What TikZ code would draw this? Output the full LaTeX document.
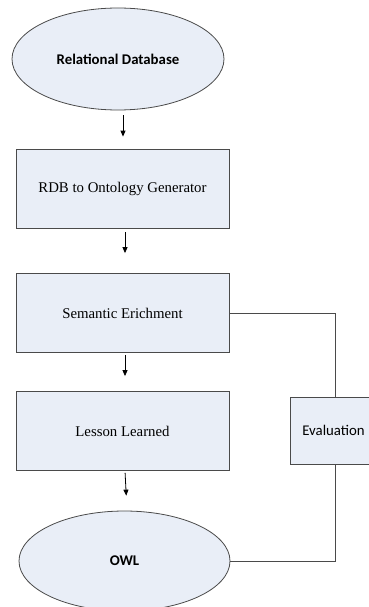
\documentclass[tikz,border=0pt]{standalone}
\usepackage{fontspec}
\setmainfont{Liberation Serif}
\newfontfamily\calib{Carlito}
\usetikzlibrary{shapes.geometric,arrows.meta}
\definecolor{boxfill}{HTML}{E9EEF7}
\definecolor{edgegray}{HTML}{4A4A4A}
\tikzset{
  procbox/.style={draw=edgegray,line width=0.8pt,fill=boxfill,rectangle,inner sep=0pt,
    minimum width=213pt,minimum height=79pt,font=\fontsize{14.8}{17}\selectfont},
  termell/.style={draw=edgegray,line width=0.8pt,fill=boxfill,ellipse,inner sep=0pt,
    font=\calib\bfseries\fontsize{14.8}{17}\selectfont},
  evalbox/.style={draw=edgegray,line width=0.8pt,fill=boxfill,rectangle,inner sep=0pt,
    minimum width=87pt,minimum height=67pt,font=\calib\fontsize{14.8}{17}\selectfont},
  flow/.style={draw=black,line width=0.8pt,-{Triangle[length=6pt,width=5pt]}},
  link/.style={draw=edgegray,line width=0.8pt}
}
\begin{document}
\begin{tikzpicture}[x=1pt,y=-1pt]
\clip (0,0) rectangle (369,607);
\fill[white] (0,0) rectangle (369,607);
\node[termell,minimum width=212pt,minimum height=102pt] (db) at (118,59) {Relational Database};
\node[procbox] (rdb) at (122.5,188.5) {RDB to Ontology Generator};
\node[procbox] (sem) at (122.5,313) {Semantic Erichment};
\node[procbox] (les) at (122.5,431) {Lesson Learned};
\node[evalbox] (eval) at (333.5,430.5) {Evaluation};
\node[termell,minimum width=211pt,minimum height=100pt] (owl) at (124.5,561) {OWL};
\draw[flow,shorten <=5pt,shorten >=12pt] ([xshift=5pt]db.south) -- ([xshift=0.5pt]rdb.north);
\draw[flow,shorten <=4pt,shorten >=20pt] ([xshift=2.5pt]rdb.south) -- ([xshift=2.5pt]sem.north);
\draw[flow,shorten <=2pt,shorten >=15pt] ([xshift=2.5pt]sem.south) -- ([xshift=2.5pt]les.north);
\draw[flow,shorten <=2pt,shorten >=15pt] ([xshift=2.5pt]les.south) -- ([xshift=2.5pt]owl.north);
\draw[link] (sem.east) -| ([xshift=1.5pt]eval.north);
\draw[link] (owl.east) -| ([xshift=1.5pt]eval.south);
\end{tikzpicture}
\end{document}
